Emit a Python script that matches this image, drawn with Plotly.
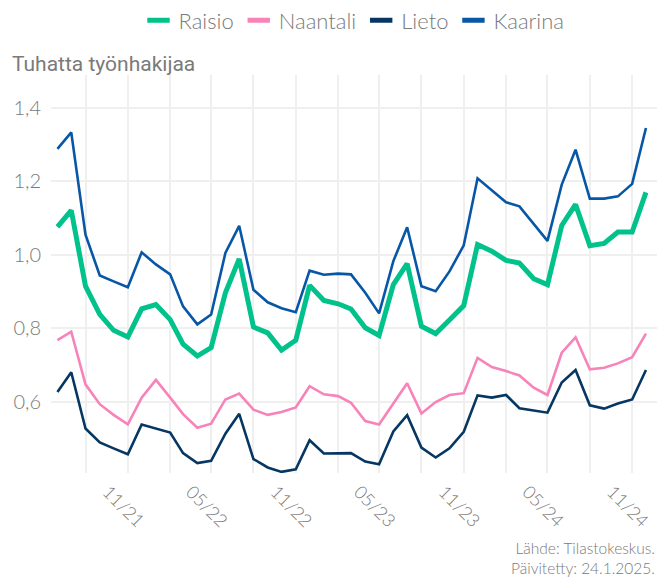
import pandas as pd
import plotly.graph_objects as go

months = pd.date_range("2021-06-01", periods=43, freq="MS")

raisio = [1.076, 1.121, 0.915, 0.838, 0.795, 0.777, 0.853, 0.865, 0.824, 0.757,
          0.725, 0.748, 0.897, 0.989, 0.804, 0.788, 0.741, 0.768, 0.917, 0.876,
          0.867, 0.853, 0.802, 0.781, 0.919, 0.976, 0.806, 0.786, 0.823, 0.862,
          1.028, 1.010, 0.985, 0.978, 0.935, 0.919, 1.080, 1.137, 1.025, 1.031,
          1.062, 1.062, 1.170]
naantali = [0.768, 0.791, 0.648, 0.594, 0.565, 0.539, 0.612, 0.660, 0.612, 0.567,
            0.530, 0.541, 0.607, 0.623, 0.579, 0.565, 0.573, 0.585, 0.643, 0.621,
            0.616, 0.598, 0.548, 0.539, 0.596, 0.651, 0.569, 0.600, 0.619, 0.624,
            0.720, 0.695, 0.684, 0.672, 0.639, 0.619, 0.734, 0.776, 0.689, 0.693,
            0.705, 0.722, 0.786]
lieto = [0.627, 0.681, 0.528, 0.490, 0.474, 0.458, 0.539, 0.528, 0.517, 0.461,
         0.434, 0.440, 0.514, 0.568, 0.445, 0.422, 0.410, 0.417, 0.496, 0.460,
         0.461, 0.461, 0.438, 0.431, 0.520, 0.564, 0.476, 0.449, 0.474, 0.519,
         0.618, 0.612, 0.619, 0.583, 0.577, 0.571, 0.653, 0.687, 0.591, 0.582,
         0.596, 0.607, 0.687]
kaarina = [1.288, 1.333, 1.055, 0.944, 0.928, 0.912, 1.007, 0.974, 0.947, 0.860,
           0.811, 0.838, 1.005, 1.079, 0.905, 0.871, 0.855, 0.844, 0.957, 0.946,
           0.949, 0.947, 0.897, 0.841, 0.983, 1.075, 0.915, 0.901, 0.955, 1.026,
           1.208, 1.175, 1.143, 1.132, 1.085, 1.038, 1.191, 1.286, 1.153, 1.153,
           1.159, 1.193, 1.345]

tick_dates = ["2021-11-01", "2022-05-01", "2022-11-01", "2023-05-01",
              "2023-11-01", "2024-05-01", "2024-11-01"]
tick_labels = ["11/21", "05/22", "11/22", "05/23", "11/23", "05/24", "11/24"]
y_ticks = [0.6, 0.8, 1.0, 1.2, 1.4]

series = [
    ("Raisio", raisio, "#00c28a", 5),
    ("Naantali", naantali, "#f783b9", 2.6),
    ("Lieto", lieto, "#063763", 2.6),
    ("Kaarina", kaarina, "#0857a6", 2.6),
]

FONT = "Lato"
GREY = "#7a7a7a"
GRID = "#efefef"

fig = go.Figure()
for name, vals, color, w in [series[3], series[1], series[2], series[0]]:
    fig.add_trace(go.Scatter(x=months, y=vals, mode="lines", name=name,
                             line=dict(color=color, width=w), showlegend=False))
for name, vals, color, w in series:
    fig.add_trace(go.Scatter(x=[None], y=[None], mode="markers", name=name,
                             marker=dict(symbol="line-ew", size=16,
                                         line=dict(color=color, width=5)),
                             showlegend=True))

# the page places the figure 8px in from the top-left corner
fig.update_layout(
    width=658, height=571,
    margin=dict(l=43, r=9, t=67, b=106, autoexpand=False),
    paper_bgcolor="white", plot_bgcolor="white",
    separators=", ",
    font=dict(family=FONT, color=GREY, weight=300),
    title=dict(text="Tuhatta työnhakijaa", x=0.006, xanchor="left", xref="container",
               y=0.902, yanchor="middle", yref="container",
               font=dict(family="Roboto", size=21, color="#7a7a7a", weight=400)),
    legend=dict(orientation="h", x=0.5, xanchor="center", y=0.978, yanchor="middle",
                yref="container", font=dict(family=FONT, size=22, color=GREY, weight=300),
                itemwidth=30, tracegroupgap=0),
    xaxis=dict(type="date", range=["2021-05-18", "2024-12-25"], automargin=False,
               tickvals=tick_dates, ticktext=tick_labels, tickangle=45,
               ticklabelshift=-20, ticklabelstandoff=4,
               tickfont=dict(family=FONT, size=18, color=GREY, weight=300),
               showgrid=True, gridcolor=GRID, gridwidth=1.5,
               minor=dict(dtick="M3", tick0="2021-08-01", showgrid=True,
                          gridcolor=GRID, gridwidth=1.5),
               showline=False, zeroline=False, ticks=""),
    yaxis=dict(range=[0.407, 1.489], tickvals=y_ticks, tickformat=".1f", automargin=False,
               ticklabelstandoff=9,
               tickfont=dict(family=FONT, size=20, color=GREY, weight=300),
               showgrid=True, gridcolor=GRID, gridwidth=1.5,
               showline=False, zeroline=False, ticks=""),
    annotations=[dict(text="Lähde: Tilastokeskus.<br>Päivitetty: 24.1.2025.",
                      xref="paper", yref="paper", x=1.0, y=-0.214,
                      xanchor="right", yanchor="middle", align="right",
                      showarrow=False, font=dict(family=FONT, size=15.5, color=GREY, weight=300))],
)

fig.write_html("out.html")
